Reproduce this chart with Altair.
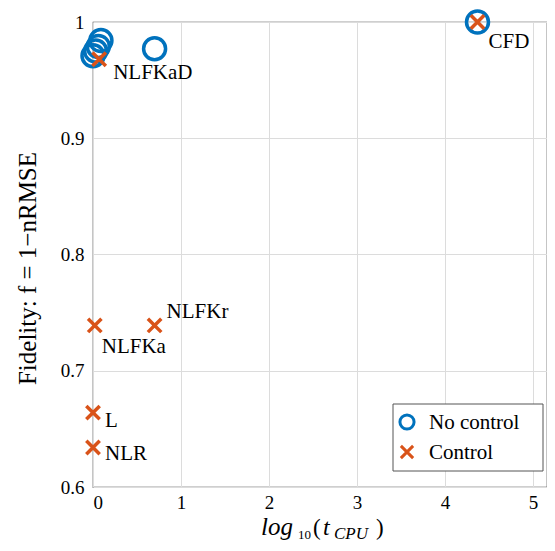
import altair as alt
import pandas as pd

# ---- data ----
models = ["NLR", "L", "NLFKa", "NLFKaD", "NLFKr", "CFD"]
t_nocontrol = [0.00, 0.03, 0.06, 0.09, 0.70, 4.37]
f_nocontrol = [0.971, 0.975, 0.979, 0.984, 0.977, 1.000]
t_control = [0.00, 0.00, 0.02, 0.07, 0.70, 4.37]
f_control = [0.634, 0.664, 0.739, 0.968, 0.739, 1.000]
series_names = ["No control", "Control"]
x_ticks = [0, 1, 2, 3, 4, 5]
y_ticks = [0.6, 0.7, 0.8, 0.9, 1.0]

BLUE = "#0072BD"
ORANGE = "#D95319"
CROSS = "M-1,-1L1,1M-1,1L1,-1"
FONT = "Liberation Serif"

rows = []
for m, t, f in zip(models, t_nocontrol, f_nocontrol):
    rows.append({"model": m, "t": t, "f": f, "series": series_names[0]})
for m, t, f in zip(models, t_control, f_control):
    rows.append({"model": m, "t": t, "f": f, "series": series_names[1]})
df = pd.DataFrame(rows)
ctrl = df[df.series == series_names[1]]

W, H = 454, 465
xs = alt.Scale(domain=[0, 5.16], nice=False, zero=False)
ys = alt.Scale(domain=[0.6, 1.0], nice=False, zero=False)
cs = alt.Scale(domain=series_names, range=[BLUE, ORANGE])
ss = alt.Scale(domain=series_names, range=["circle", CROSS])

points = alt.Chart(df).mark_point(filled=False, strokeWidth=3.5, opacity=1).encode(
    x=alt.X("t:Q", scale=xs, axis=alt.Axis(values=x_ticks, title=None, format="d",
                                           labelPadding=6, labelFontSize=19,
                                           grid=True, ticks=False, domain=False)),
    y=alt.Y("f:Q", scale=ys, axis=alt.Axis(values=y_ticks, format="~g",
                                           labelPadding=9, labelFontSize=19,
                                           grid=True, ticks=False, domain=False,
                                           title="Fidelity: f = 1\u2212nRMSE",
                                           titleX=-66, titleY=246,
                                           titleAngle=-90, titleBaseline="middle",
                                           titleAlign="center",
                                           titleFontSize=25, titleFontWeight="normal")),
    color=alt.Color("series:N", scale=cs, legend=None),
    shape=alt.Shape("series:N", scale=ss, legend=None),
    size=alt.Size("series:N", scale=alt.Scale(domain=series_names, range=[484, 180]), legend=None),
)

offsets = {
    "NLFKaD": (14, 14),
    "NLFKa": (7, 22),
    "CFD": (11, 20),
    "NLFKr": (12, -13),
    "L": (12, 8),
    "NLR": (12, 7),
}
label_layers = []
for m in models:
    dx, dy = offsets[m]
    label_layers.append(
        alt.Chart(ctrl[ctrl.model == m]).mark_text(
            align="left", baseline="middle", dx=dx, dy=dy,
            font=FONT, fontSize=21, color="black"
        ).encode(x=alt.X("t:Q", scale=xs), y=alt.Y("f:Q", scale=ys), text="model:N")
    )

# legend box (drawn in pixel space, lower-right of the plot)
one = pd.DataFrame({"k": [0]})
LX, LY, LW, LH = 300, 382, 150, 67
legend_box = alt.Chart(one).mark_rect(
    fill="white", stroke="#555555", strokeWidth=1
).encode(x=alt.value(LX), x2=alt.value(LX + LW), y=alt.value(LY), y2=alt.value(LY + LH))
legend_layers = [legend_box]
leg_sizes = [200, 150]
for i, name in enumerate(series_names):
    cy = LY + 18 + 30 * i
    legend_layers.append(
        alt.Chart(pd.DataFrame({"series": [name]})).mark_point(
            filled=False, strokeWidth=3, opacity=1, size=leg_sizes[i]
        ).encode(x=alt.value(LX + 14), y=alt.value(cy),
                 color=alt.Color("series:N", scale=cs, legend=None),
                 shape=alt.Shape("series:N", scale=ss, legend=None))
    )
    legend_layers.append(
        alt.Chart(pd.DataFrame({"series": [name]})).mark_text(
            align="left", baseline="middle", font=FONT, fontSize=21, color="black"
        ).encode(x=alt.value(LX + 36), y=alt.value(cy + 1), text="series:N")
    )

# x-axis title composed as text pieces: log_10 (t_CPU)
title_parts = [
    ("log", 168, 513, 25, "italic"),
    ("10", 205, 517, 13, "normal"),
    ("(", 220, 513, 23, "normal"),
    ("t", 230, 513, 24, "italic"),
    ("CPU", 241, 517, 17, "italic"),
    (")", 283, 513, 23, "normal"),
]
title_layers = []
for txt, px, py, fs, st in title_parts:
    title_layers.append(
        alt.Chart(one).mark_text(
            text=txt, align="left", baseline="alphabetic", font=FONT,
            fontSize=fs, fontStyle=st, color="black"
        ).encode(x=alt.value(px), y=alt.value(py))
    )

chart = alt.layer(points, *label_layers, *legend_layers, *title_layers).properties(
    width=W, height=H,
    autosize=alt.AutoSizeParams(type="none"),
    padding={"left": 85, "top": 14, "right": 0, "bottom": 56},
).configure_view(
    stroke="#404040", strokeWidth=1.2
).configure_axis(
    labelFont=FONT, titleFont=FONT, labelColor="black", titleColor="black",
    gridColor="#dcdcdc", gridWidth=1
)

chart.save("out.html", embed_options={"renderer": "svg", "actions": False})
